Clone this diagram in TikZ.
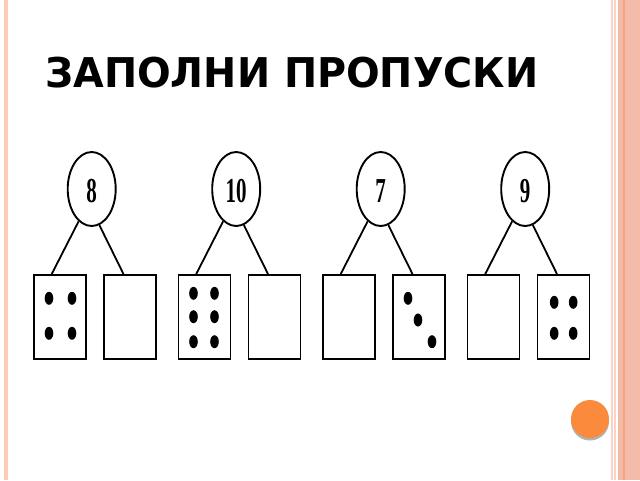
\documentclass[tikz,border=0pt]{standalone}
\usepackage{fontspec}
\setmainfont{DejaVu Sans}
\newfontfamily\numfont{Liberation Serif}
\usetikzlibrary{shapes.geometric}
\definecolor{leftband}{HTML}{FFCAB7}
\definecolor{lightstripe}{HTML}{FCD2C4}
\definecolor{salmon}{HTML}{F3BCAA}
\definecolor{darkstripe}{HTML}{F9A274}
\definecolor{dotorange}{HTML}{FB8A3C}
\tikzset{
  numcirc/.style={ellipse, draw, line width=1.9pt, minimum width=48pt, minimum height=74pt, inner sep=0pt},
  numtxt/.style={font=\numfont\bfseries\fontsize{35}{35}\selectfont, xscale=0.6},
  cellbox/.style={rectangle, draw, line width=1.9pt, minimum width=52pt, minimum height=84pt, inner sep=0pt},
  link/.style={line width=1.8pt},
  dotfill/.style={fill=black}
}
\begin{document}
\begin{tikzpicture}[x=1pt,y=-1pt]
\useasboundingbox (0,0) rectangle (640,480);
\fill[white] (0,0) rectangle (640,480);
% side bands
\fill[leftband] (3.5,0) rectangle (7.5,480);
\fill[lightstripe] (611,0) rectangle (613,480);
\fill[lightstripe] (614,0) rectangle (615.5,480);
\fill[salmon] (618,0) rectangle (640,480);
\fill[darkstripe] (622.5,0) rectangle (624.5,480);
% title
\node[anchor=base west, inner sep=0pt, xscale=0.967, font=\bfseries\fontsize{41}{41}\selectfont] (title) at (45,87.3) {ЗАПОЛНИ ПРОПУСКИ};
% groups
\foreach \g/\L/\n in {1/34/8, 2/178.5/10, 3/323/7, 4/467.5/9}{
  \node[numcirc] (c\g) at (\L+57.7,189) {};
  \node[numtxt] (t\g) at (\L+57.7,191) {\n};
  \node[cellbox] (a\g) at (\L+26,317) {};
  \node[cellbox] (b\g) at (\L+96,317) {};
  \draw[link] (c\g.-112) -- ([xshift=-8.3pt]a\g.north);
  \draw[link] (c\g.-78) -- ([xshift=-6.5pt]b\g.north);
}
% dots box 1 (4)
\foreach \dx in {15,38}{\foreach \dy in {298.3,333.3}{\fill[dotfill] (34+\dx,\dy) ellipse (4.3 and 6.5);}}
% dots box 3 (6)
\foreach \dx in {15,36}{\foreach \dy in {293.3,316.7,341.7}{\fill[dotfill] (178.5+\dx,\dy) ellipse (4.3 and 6.5);}}
% dots box 6 (3 diagonal)
\foreach \dx/\dy in {15/298.3, 25/320, 39/341.7}{\fill[dotfill] (393+\dx,\dy) ellipse (4.3 and 6.5);}
% dots box 8 (4)
\foreach \dx in {16.7,35.7}{\foreach \dy in {302.3,333.3}{\fill[dotfill] (537.5+\dx,\dy) ellipse (4.3 and 6.5);}}
% orange button
\fill[gray!60] (590,421.5) circle (19);
\fill[dotorange] (590,419) circle (19);
\end{tikzpicture}
\end{document}
